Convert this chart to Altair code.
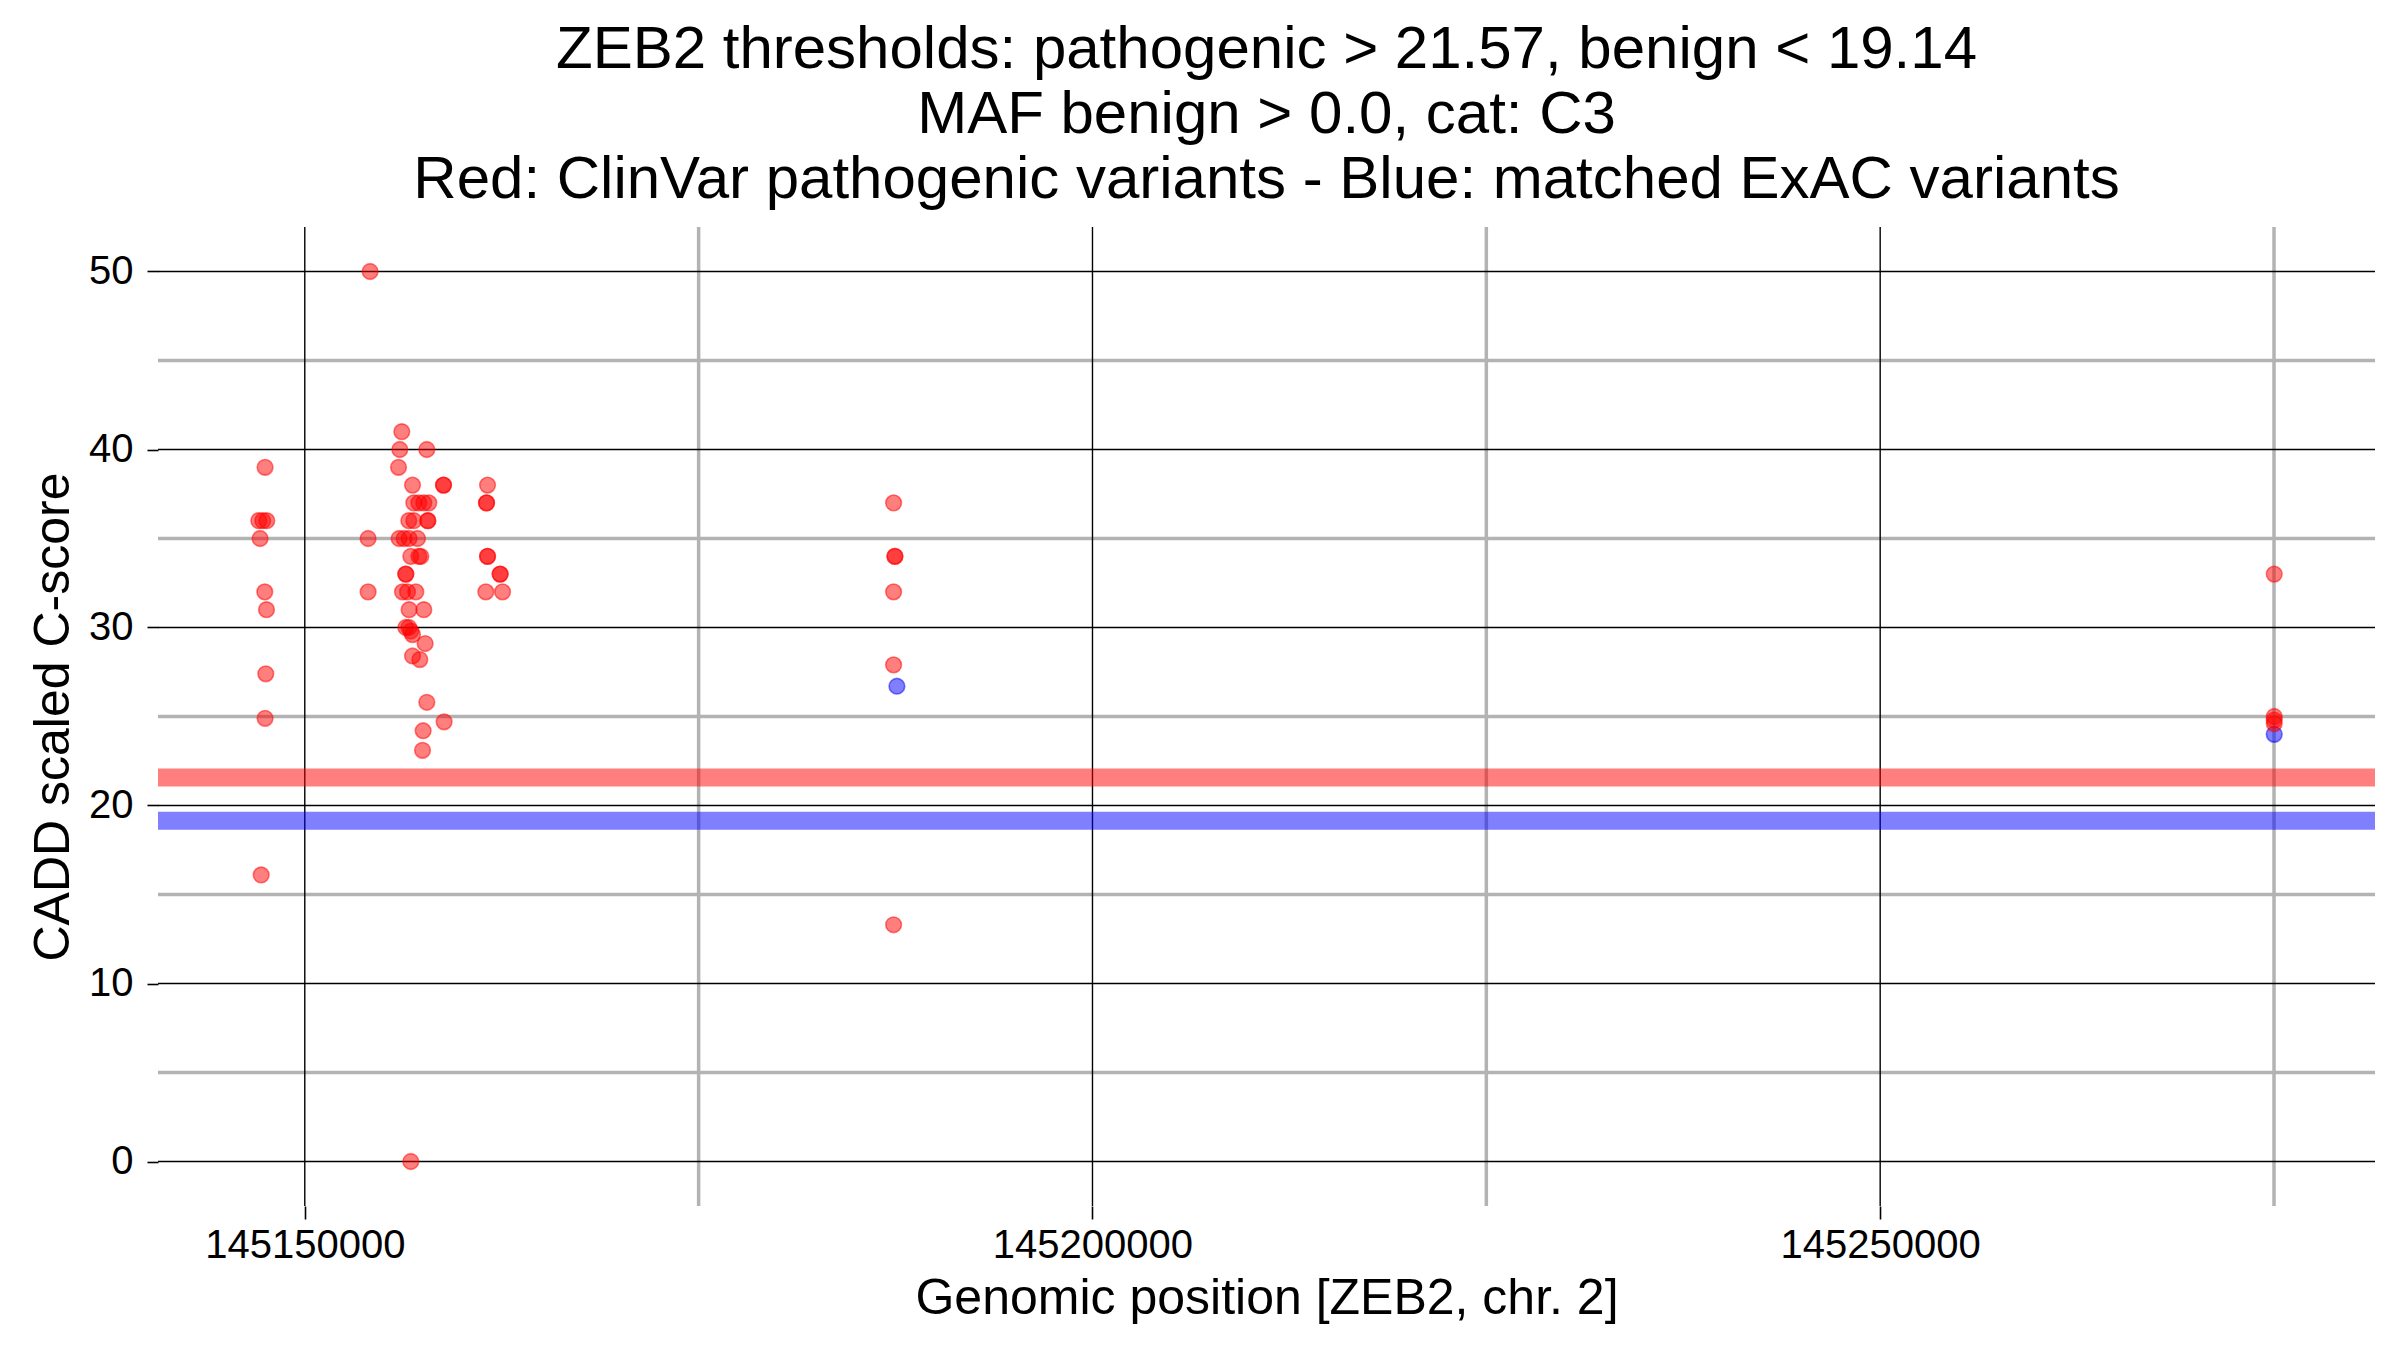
import altair as alt
import pandas as pd

# ClinVar pathogenic variants (red)
red_pos = [
    145147479, 145147079, 145147333, 145147587, 145147162, 145147460, 145147568,
    145147524, 145147479, 145147232,
    145154146, 145154019, 145154019, 145156158, 145156032, 145157746, 145155949,
    145156838, 145158806, 145158806,
    145156920, 145157238, 145157555, 145157873,
    145156603, 145156920, 145157809, 145157809,
    145155987, 145156305, 145156622, 145157155,
    145156730, 145157238, 145157365,
    145156412, 145156412,
    145156203, 145156520, 145157047,
    145156622, 145157555,
    145156412, 145156603, 145156730, 145156838,
    145157638, 145156838, 145157301, 145157746, 145158844, 145157511, 145157473,
    145156730,
    145161600, 145161536, 145161536, 145161600, 145161600, 145162400, 145162400,
    145161492, 145162552,
    145187376, 145187459, 145187459, 145187376, 145187376, 145187376,
    145275013, 145275013, 145275013, 145275013,
]
red_score = [
    39.0, 36.0, 36.0, 36.0, 35.0, 32.0, 31.0,
    27.4, 24.9, 16.1,
    50.0, 35.0, 32.0, 41.0, 40.0, 40.0, 39.0,
    38.0, 38.0, 38.0,
    37.0, 37.0, 37.0, 37.0,
    36.0, 36.0, 36.0, 36.0,
    35.0, 35.0, 35.0, 35.0,
    34.0, 34.0, 34.0,
    33.0, 33.0,
    32.0, 32.0, 32.0,
    31.0, 31.0,
    30.0, 30.0, 29.8, 29.6,
    29.1, 28.4, 28.2, 25.8, 24.7, 24.2, 23.1,
    0.0,
    38.0, 37.0, 37.0, 34.0, 34.0, 33.0, 33.0,
    32.0, 32.0,
    37.0, 34.0, 34.0, 32.0, 27.9, 13.3,
    33.0, 25.0, 24.8, 24.6,
]

# matched ExAC variants (blue)
blue_pos = [145187586, 145275013]
blue_score = [26.7, 24.0]

# thresholds
pathogenic_threshold = 21.57
benign_threshold = 19.14

# axis breaks
major_x = [145150000, 145200000, 145250000]
minor_x = [145175000, 145225000, 145275000]
major_y = [0, 10, 20, 30, 40, 50]
minor_y = [5, 15, 25, 35, 45]

all_pos = red_pos + blue_pos
span = max(all_pos) - min(all_pos)
xlo = min(all_pos) - 0.05 * span
xhi = max(all_pos) + 0.05 * span

FONT = "Liberation Sans"
W, H = 2217, 979

xscale = alt.Scale(domain=[xlo, xhi], nice=False, zero=False)
yscale = alt.Scale(domain=[-2.5, 52.5], nice=False, zero=False)

xaxis = alt.Axis(
    values=major_x, format="d", grid=False, domain=False,
    tickColor="black", tickSize=13, tickWidth=1.6,
    labelFont=FONT, labelFontSize=40, labelColor="black", labelPadding=6,
    labelFlush=False, labelLimit=0, labelOverlap=False,
    title="Genomic position [ZEB2, chr. 2]", titleFont=FONT, titleFontSize=50,
    titleFontWeight="normal", titleColor="black",
    titleX=W / 2, titleY=92, titleBaseline="middle", titleAnchor="middle",
)
yaxis = alt.Axis(
    values=major_y, grid=False, domain=False,
    tickColor="black", tickSize=11, tickWidth=1.6,
    labelFont=FONT, labelFontSize=40, labelColor="black", labelPadding=14,
    labelFlush=False, labelLimit=0,
    title="CADD scaled C-score", titleFont=FONT, titleFontSize=50,
    titleFontWeight="normal", titleColor="black",
    titleX=-105, titleY=H / 2, titleBaseline="middle", titleAngle=-90,
    titleAnchor="middle",
)

red_df = pd.DataFrame({"pos": red_pos, "score": red_score})
blue_df = pd.DataFrame({"pos": blue_pos, "score": blue_score})
thr_df = pd.DataFrame({"t": [pathogenic_threshold, benign_threshold],
                       "kind": ["pathogenic", "benign"]})

minor_h = alt.Chart(pd.DataFrame({"v": minor_y})).mark_rule(
    color="#B3B3B3", strokeWidth=3.5
).encode(y=alt.Y("v:Q", scale=yscale, axis=yaxis))
minor_v = alt.Chart(pd.DataFrame({"v": minor_x})).mark_rule(
    color="#B3B3B3", strokeWidth=3.5
).encode(x=alt.X("v:Q", scale=xscale, axis=xaxis))
major_h = alt.Chart(pd.DataFrame({"v": major_y})).mark_rule(
    color="black", strokeWidth=1.4
).encode(y=alt.Y("v:Q", scale=yscale, axis=yaxis))
major_v = alt.Chart(pd.DataFrame({"v": major_x})).mark_rule(
    color="black", strokeWidth=1.4
).encode(x=alt.X("v:Q", scale=xscale, axis=xaxis))

blue_pts = alt.Chart(blue_df).mark_point(
    filled=True, shape="circle", size=245,
    fill="#0000FF", fillOpacity=0.5,
    stroke="#0000FF", strokeOpacity=0.5, strokeWidth=1.6,
).encode(
    x=alt.X("pos:Q", scale=xscale, axis=xaxis),
    y=alt.Y("score:Q", scale=yscale, axis=yaxis),
)
red_pts = alt.Chart(red_df).mark_point(
    filled=True, shape="circle", size=245,
    fill="#FF0000", fillOpacity=0.5,
    stroke="#FF0000", strokeOpacity=0.5, strokeWidth=1.6,
).encode(
    x=alt.X("pos:Q", scale=xscale, axis=xaxis),
    y=alt.Y("score:Q", scale=yscale, axis=yaxis),
)

bands = alt.Chart(thr_df).mark_rule(strokeWidth=18, opacity=0.5).encode(
    y=alt.Y("t:Q", scale=yscale, axis=yaxis),
    color=alt.Color("kind:N",
                    scale=alt.Scale(domain=["pathogenic", "benign"],
                                    range=["#FF0000", "#0000FF"]),
                    legend=None),
)

chart = alt.layer(
    minor_h, minor_v, major_h, major_v, blue_pts, red_pts, bands
).properties(
    width=W, height=H,
    title=alt.Title(
        text=["ZEB2 thresholds: pathogenic > 21.57, benign < 19.14",
              "MAF benign > 0.0, cat: C3",
              "Red: ClinVar pathogenic variants - Blue: matched ExAC variants"],
        font=FONT, fontSize=60, fontWeight="normal", color="black",
        anchor="middle", frame="group", lineHeight=65,
        baseline="bottom", offset=14, dy=60,
    ),
    autosize=alt.AutoSizeParams(type="none"),
    padding={"left": 150, "top": 219, "right": 17, "bottom": 136},
    background="white",
).configure_view(stroke=None)

chart.save("out.html", embed_options={"renderer": "svg", "actions": False})
